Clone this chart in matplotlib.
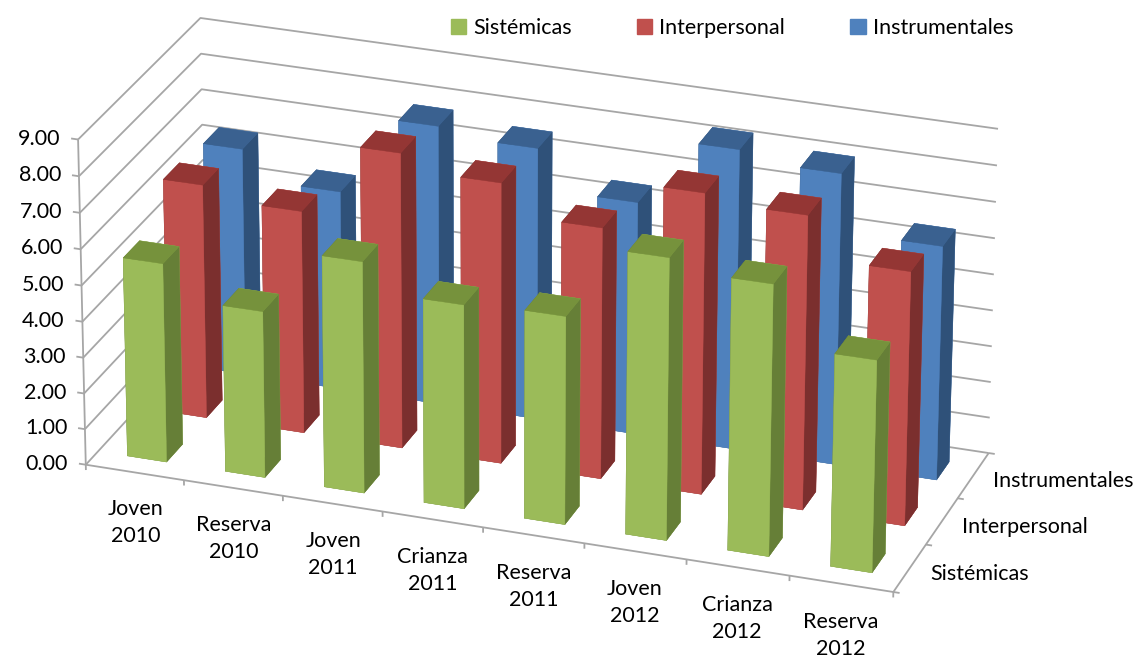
import matplotlib
matplotlib.use("Agg")
import matplotlib.pyplot as plt
from matplotlib.patches import Patch
from mpl_toolkits.mplot3d import proj3d

plt.rcParams['font.family'] = ['Lato', 'DejaVu Sans']
plt.rcParams['font.size'] = 15.5

categories = ["Joven\n2010", "Reserva\n2010", "Joven\n2011", "Crianza\n2011",
              "Reserva\n2011", "Joven\n2012", "Crianza\n2012", "Reserva\n2012"]
series_names = ["Sistémicas", "Interpersonal", "Instrumentales"]
sistemicas = [5.53, 4.62, 6.4, 5.63, 5.73, 7.73, 7.43, 5.8]
interpersonal = [6.53, 6.2, 8.2, 7.78, 6.95, 8.3, 8.1, 6.98]
instrumentales = [6.38, 5.58, 7.8, 7.58, 6.48, 8.33, 8.07, 6.48]
z_ticks = [0, 1, 2, 3, 4, 5, 6, 7, 8, 9]

# front, top, side
face_colors = [("#9BBB59", "#76923C", "#667F37"),
               ("#C0504D", "#943634", "#7B2F2E"),
               ("#4F81BD", "#3A6190", "#2F5179")]
GRID = "#A6A6A6"
W, H = 1138, 658

fig = plt.figure(figsize=(W / 100, H / 100), dpi=100)
# mplot3d keeps the axes square, so make it as wide as the figure
ax = fig.add_axes([-45.9 / W, -224.4 / H, 1, W / H], projection='3d', computed_zorder=False)
ax.set_box_aspect((849, 330, 357), zoom=0.8355)
ax.view_init(elev=24.7, azim=-70.8, roll=-0.15)
ax.set_proj_type('persp', focal_length=1.3)
ax.set_axis_off()

nx, ny, nz = len(categories), len(series_names), z_ticks[-1]
ax.set_xlim(0, nx, view_margin=0)
ax.set_ylim(0, ny, view_margin=0)
ax.set_zlim(0, nz, view_margin=0)


def line(xs, ys, zs, lw=1.3):
    ax.plot(xs, ys, zs, color=GRID, lw=lw, zorder=1, solid_capstyle='butt')


def label(x, y, z, s, **kw):
    # 2D text placed at the projected 3D point
    px, py, _ = proj3d.proj_transform(x, y, z, ax.get_proj())
    ax.text2D(px, py, s, transform=ax.transData, zorder=500, **kw)


# walls
for z in z_ticks:
    line([0, 0, nx], [0, ny, ny], [z, z, z])
    line([-0.07, 0], [0, 0], [z, z])
    label(-0.18, 0, z - 0.05, "%.2f" % z, ha='right', va='center')

# floor edges and ticks
line([0, 0], [0, 0], [0, nz])
line([0, nx, nx], [0, 0, ny], [0, 0, 0])
for i in range(nx + 1):
    line([i, i], [0, 0], [-0.15, 0])
for r in range(ny + 1):
    line([nx, nx + 0.06], [r, r], [0, 0])

values = [sistemicas, interpersonal, instrumentales]
for r in reversed(range(ny)):
    front, top, side = face_colors[r]
    # bottom, top, front, back, left, right
    faces = [top, top, front, front, side, side]
    for i, v in enumerate(values[r]):
        ax.bar3d([i + 0.3], [r + 0.3], [0], [0.4], [0.4], [v], color=faces,
                 edgecolor=faces, linewidth=0.3, shade=False, zorder=5 + (2 - r) * 10 + i)

for i, name in enumerate(categories):
    label(i + 0.5, 0, -1.42, name, ha='center', va='center', linespacing=1.45)
for r, name in enumerate(series_names):
    label(nx + 0.2, r + 0.5, -0.08, name, ha='left', va='center')

ax.set_xlim(0, nx, view_margin=0)
ax.set_ylim(0, ny, view_margin=0)
ax.set_zlim(0, nz, view_margin=0)

handles = [Patch(color=face_colors[r][0], label=series_names[r]) for r in range(ny)]
fig.legend(handles=handles, ncol=3, frameon=False, loc='center', bbox_to_anchor=(732 / W, 1 - 28 / H),
           handlelength=0.7, handleheight=0.7, handletextpad=0.33, columnspacing=3.04)

fig.savefig("out.png", dpi=100)
